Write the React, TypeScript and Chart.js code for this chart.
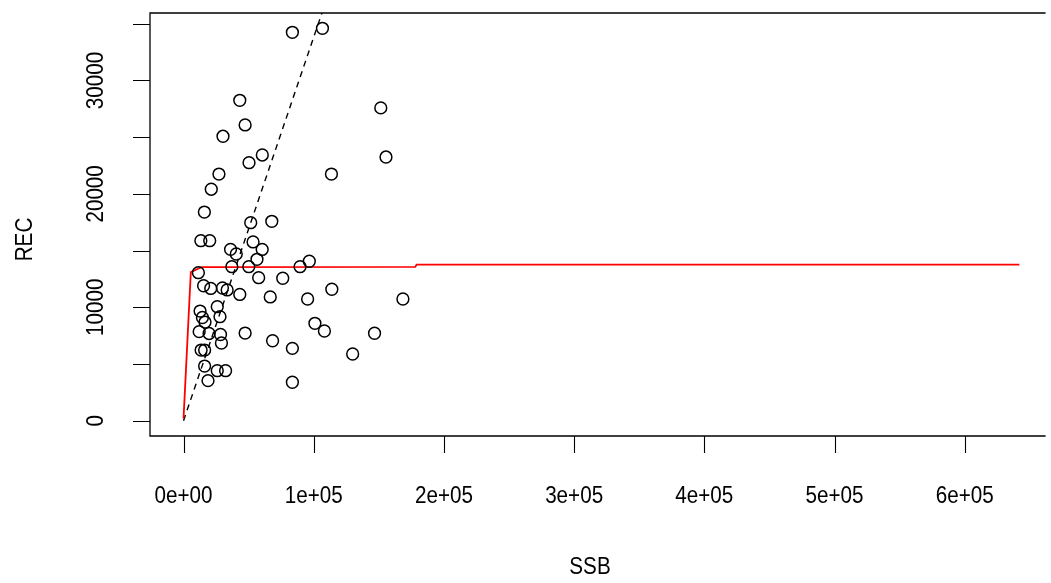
import React, { useEffect, useRef } from "react";
import { Chart, registerables } from "chart.js";

Chart.register(...registerables);

// Observed stock-recruitment pairs
const ssb = [
  83600, 106700, 43200, 47300, 30300, 151500, 155500, 60500, 50300, 27200,
  21300, 113600, 16000, 51600, 67800, 13300, 20100, 36100, 40500, 53400,
  60400, 56400, 37100, 50100, 11400, 89500, 96600, 57700, 76200, 15400,
  20900, 29900, 33500, 43200, 66600, 95300, 113900, 168500, 25900, 28000,
  12700, 14500, 16500, 12000, 19600, 28400, 29100, 47300, 68400, 83600,
  100900, 108200, 146700, 129900, 13500, 16200, 16200, 25900, 32300, 18800,
  83600,
];
const rec = [
  34250, 34600, 28250, 26080, 25080, 27580, 23250, 23430, 22750, 21750,
  20410, 21750, 18400, 17460, 17580, 15870, 15870, 15110, 14700, 15760,
  15100, 14230, 13580, 13580, 13050, 13580, 14060, 12610, 12560, 11900,
  11660, 11700, 11530, 11130, 10910, 10730, 11590, 10730, 10050, 9170,
  9670, 9100, 8700, 7850, 7690, 7600, 6850, 7730, 7050, 6380,
  8590, 7910, 7710, 5880, 6230, 6230, 4820, 4410, 4410, 3530,
  3390,
];

// Fitted model curve (red)
const fitSsb = [0, 5600, 14000, 178000, 179000, 642000];
const fitRec = [200, 13100, 13550, 13560, 13760, 13760];

// Replacement line through origin (dashed)
const refSsb = [0, 115000];
const refRec = [0, 38900];

// Axes
const xTicks = [0, 100000, 200000, 300000, 400000, 500000, 600000];
const xTickLabels = ["0e+00", "1e+05", "2e+05", "3e+05", "4e+05", "5e+05", "6e+05"];
const yTicks = [0, 5000, 10000, 15000, 20000, 25000, 30000, 35000];
const yLabelValues = [0, 10000, 20000, 30000];
const yLabelTexts = ["0", "10000", "20000", "30000"];
const xTitle = "SSB";
const yTitle = "REC";

const FONT = '24px "Liberation Sans", Arial, sans-serif';
const SQUEEZE = 0.86;

function drawText(ctx: any, text: string, x: number, y: number, rot: number) {
  ctx.save();
  ctx.translate(x, y);
  ctx.rotate(rot);
  ctx.scale(SQUEEZE, 1);
  ctx.fillText(text, 0, 0);
  ctx.restore();
}

const rAxesPlugin = {
  id: "rAxes",
  afterDraw(chart: any) {
    const { ctx, chartArea, scales } = chart;
    const xs = scales.x;
    const ys = scales.y;
    ctx.save();
    ctx.strokeStyle = "#000";
    ctx.lineWidth = 1.3;
    // box (right side lies beyond the canvas)
    ctx.beginPath();
    ctx.moveTo(chartArea.right + 2, chartArea.top);
    ctx.lineTo(chartArea.left, chartArea.top);
    ctx.lineTo(chartArea.left, chartArea.bottom);
    ctx.lineTo(chartArea.right + 2, chartArea.bottom);
    ctx.stroke();

    ctx.lineWidth = 1.1;
    ctx.beginPath();
    xTicks.forEach((v) => {
      const px = Math.round(xs.getPixelForValue(v)) + 0.5;
      ctx.moveTo(px, chartArea.bottom);
      ctx.lineTo(px, chartArea.bottom + 17);
    });
    yTicks.forEach((v) => {
      const py = Math.round(ys.getPixelForValue(v)) + 0.5;
      ctx.moveTo(chartArea.left, py);
      ctx.lineTo(chartArea.left - 17, py);
    });
    ctx.stroke();

    ctx.fillStyle = "#000";
    ctx.font = FONT;
    ctx.textAlign = "center";
    ctx.textBaseline = "middle";
    xTicks.forEach((v, i) => {
      drawText(ctx, xTickLabels[i], xs.getPixelForValue(v), 496, 0);
    });
    drawText(ctx, xTitle, 590, 567, 0);

    yLabelValues.forEach((v, i) => {
      drawText(ctx, yLabelTexts[i], 96, ys.getPixelForValue(v), -Math.PI / 2);
    });
    drawText(ctx, yTitle, 25, (chartArea.top + chartArea.bottom) / 2 + 15, -Math.PI / 2);
    ctx.restore();
  },
};

export default function App() {
  const ref = useRef<HTMLCanvasElement | null>(null);

  useEffect(() => {
    if (!ref.current) return;
    const chart = new Chart(ref.current, {
      type: "scatter",
      data: {
        datasets: [
          {
            label: "obs",
            data: ssb.map((x, i) => ({ x, y: rec[i] })),
            showLine: false,
            pointStyle: "circle",
            pointRadius: 5.9,
            pointBorderWidth: 1.5,
            pointBackgroundColor: "rgba(0,0,0,0)",
            pointBorderColor: "#000",
          },
          {
            label: "fit",
            data: fitSsb.map((x, i) => ({ x, y: fitRec[i] })),
            showLine: true,
            borderColor: "#ff0000",
            borderWidth: 1.8,
            pointRadius: 0,
            fill: false,
          },
          {
            label: "ref",
            data: refSsb.map((x, i) => ({ x, y: refRec[i] })),
            showLine: true,
            borderColor: "#000",
            borderWidth: 1.4,
            borderDash: [6, 5],
            pointRadius: 0,
            fill: false,
          },
        ],
      },
      options: {
        animation: false,
        responsive: false,
        maintainAspectRatio: false,
        layout: { padding: { left: 150, top: 13, right: 0, bottom: 147 } },
        plugins: { legend: { display: false }, tooltip: { enabled: false } },
        scales: {
          x: { type: "linear", min: -25760, max: 660600, display: false },
          y: { type: "linear", min: -1350, max: 35950, display: false },
        },
      },
      plugins: [rAxesPlugin],
    });
    return () => chart.destroy();
  }, []);

  return (
    <div style={{ position: "absolute", left: 0, top: 0, width: 1051, height: 583, background: "#fff" }}>
      <canvas ref={ref} width={1051} height={583} style={{ display: "block" }} />
    </div>
  );
}
